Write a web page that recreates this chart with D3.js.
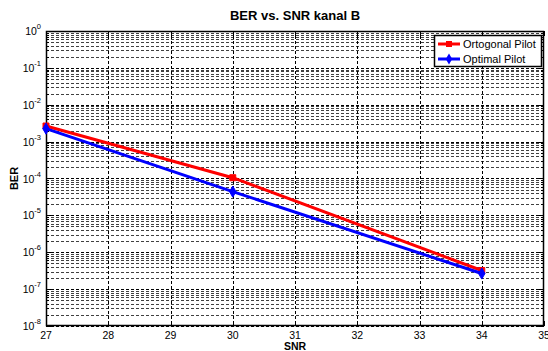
<!DOCTYPE html>
<html>
<head>
<meta charset="utf-8">
<script src="https://cdn.jsdelivr.net/npm/d3@7"></script>
<style>
  body { margin: 0; background: #fff; }
  text { font-family: "Liberation Sans", Arial, sans-serif; }
</style>
</head>
<body>
<svg id="chart" width="548" height="351"></svg>
<script>
// data
const snr = [27, 30, 34];
const ortogonal = [2.65e-3, 1.05e-4, 3.2e-7];
const optimal = [2.25e-3, 4.4e-5, 2.65e-7];
const xTicks = [27, 28, 29, 30, 31, 32, 33, 34, 35];
const yExponents = [0, -1, -2, -3, -4, -5, -6, -7, -8];

const margin = { top: 31, right: 4, bottom: 25, left: 46 };
const width = 548 - margin.left - margin.right;
const height = 351 - margin.top - margin.bottom;

const svg = d3.select('#chart');
const g = svg.append('g')
  .attr('transform', 'translate(' + margin.left + ',' + margin.top + ')');

const x = d3.scaleLinear().domain([27, 35]).range([0, width]);
const y = d3.scaleLog().domain([1e-8, 1]).range([height, 0]);

g.append('rect').attr('width', width).attr('height', height).attr('fill', '#fff');

// log grid values (major + minor)
const gridVals = [];
yExponents.forEach((e) => {
  if (e === 0) return;
  for (let k = 1; k <= 9; k++) gridVals.push(k * Math.pow(10, e));
});
const isMajor = (v) => Math.abs(Math.log10(v) - Math.round(Math.log10(v))) < 1e-9;

const gridStyle = (sel) => sel
  .attr('stroke', '#000')
  .attr('stroke-width', 1)
  .attr('stroke-dasharray', '3,2')
  .attr('shape-rendering', 'crispEdges');

// horizontal grid
g.append('g').selectAll('line')
  .data(gridVals)
  .enter()
  .append('line')
  .attr('x1', 0)
  .attr('x2', width)
  .attr('y1', (d) => Math.round(y(d)) + 0.5)
  .attr('y2', (d) => Math.round(y(d)) + 0.5)
  .call(gridStyle)
  .attr('stroke-opacity', (d) => (isMajor(d) ? 1 : 0.75));

// vertical grid
g.append('g').selectAll('line')
  .data(xTicks.slice(1, -1))
  .enter()
  .append('line')
  .attr('x1', (d) => Math.round(x(d)) + 0.5)
  .attr('x2', (d) => Math.round(x(d)) + 0.5)
  .attr('y1', 0)
  .attr('y2', height)
  .call(gridStyle);

// ticks on all sides (inward)
const tickG = g.append('g').attr('stroke', '#000').attr('shape-rendering', 'crispEdges');
xTicks.forEach((t) => {
  const xx = Math.round(x(t)) + 0.5;
  tickG.append('line').attr('x1', xx).attr('x2', xx).attr('y1', height).attr('y2', height - 5);
  tickG.append('line').attr('x1', xx).attr('x2', xx).attr('y1', 0).attr('y2', 5);
});
gridVals.concat([1]).forEach((v) => {
  const yy = Math.round(y(v)) + 0.5;
  const len = isMajor(v) ? 5 : 3;
  tickG.append('line').attr('x1', 0).attr('x2', len).attr('y1', yy).attr('y2', yy);
  tickG.append('line').attr('x1', width).attr('x2', width - len).attr('y1', yy).attr('y2', yy);
});

// frame
g.append('rect')
  .attr('x', 0.5).attr('y', 0.5)
  .attr('width', width - 1).attr('height', height - 1)
  .attr('fill', 'none').attr('stroke', '#000').attr('stroke-width', 1.5);

// x tick labels
g.append('g').selectAll('text')
  .data(xTicks)
  .enter()
  .append('text')
  .attr('x', (d) => x(d))
  .attr('y', height + 13)
  .attr('text-anchor', 'middle')
  .attr('font-size', 10.5)
  .text((d) => d);

// y tick labels 10^e
const yl = g.append('g').selectAll('text')
  .data(yExponents)
  .enter()
  .append('text')
  .attr('x', -5)
  .attr('y', (d) => y(Math.pow(10, d)) + 4)
  .attr('text-anchor', 'end')
  .attr('font-size', 10.5);
yl.append('tspan').text('10');
yl.append('tspan')
  .attr('dy', -6)
  .attr('font-size', 7.5)
  .text((d) => d);

// data lines
const line = d3.line()
  .x((d) => x(d[0]))
  .y((d) => y(d[1]));

const series = [
  { name: 'Ortogonal Pilot', values: ortogonal, color: '#ff0000', marker: d3.symbolSquare, size: 36 },
  { name: 'Optimal Pilot', values: optimal, color: '#0000ff', marker: d3.symbolDiamond, size: 36 },
];

series.forEach((s) => {
  const pts = snr.map((v, i) => [v, s.values[i]]);
  g.append('path')
    .datum(pts)
    .attr('d', line)
    .attr('fill', 'none')
    .attr('stroke', s.color)
    .attr('stroke-width', 3);
  g.selectAll(null)
    .data(pts)
    .enter()
    .append('path')
    .attr('d', d3.symbol().type(s.marker).size(s.size))
    .attr('transform', (d) => 'translate(' + x(d[0]) + ',' + y(d[1]) + ')')
    .attr('fill', s.color)
    .attr('stroke', s.color);
});

// legend
const legend = g.append('g').attr('transform', 'translate(' + (434 - margin.left) + ',' + (35 - margin.top) + ')');
legend.append('rect')
  .attr('x', 0.5).attr('y', 0.5)
  .attr('width', 107).attr('height', 31)
  .attr('fill', '#fff').attr('stroke', '#000').attr('stroke-width', 1.5);
series.forEach((s, i) => {
  const ly = 9 + i * 15;
  legend.append('line')
    .attr('x1', 4).attr('x2', 26)
    .attr('y1', ly).attr('y2', ly)
    .attr('stroke', s.color).attr('stroke-width', 3);
  legend.append('path')
    .attr('d', d3.symbol().type(s.marker).size(s.size))
    .attr('transform', 'translate(15,' + ly + ')')
    .attr('fill', s.color);
  legend.append('text')
    .attr('x', 29).attr('y', ly + 4)
    .attr('font-size', 11)
    .text(s.name);
});

// titles
svg.append('text')
  .attr('x', margin.left + width / 2)
  .attr('y', 20)
  .attr('text-anchor', 'middle')
  .attr('font-size', 13)
  .attr('font-weight', 'bold')
  .text('BER vs. SNR kanal B');

svg.append('text')
  .attr('x', margin.left + width / 2)
  .attr('y', 350)
  .attr('text-anchor', 'middle')
  .attr('font-size', 10.5)
  .attr('font-weight', 'bold')
  .text('SNR');

svg.append('text')
  .attr('transform', 'translate(18,' + (margin.top + height / 2) + ') rotate(-90)')
  .attr('text-anchor', 'middle')
  .attr('font-size', 11)
  .attr('font-weight', 'bold')
  .text('BER');
</script>
</body>
</html>
